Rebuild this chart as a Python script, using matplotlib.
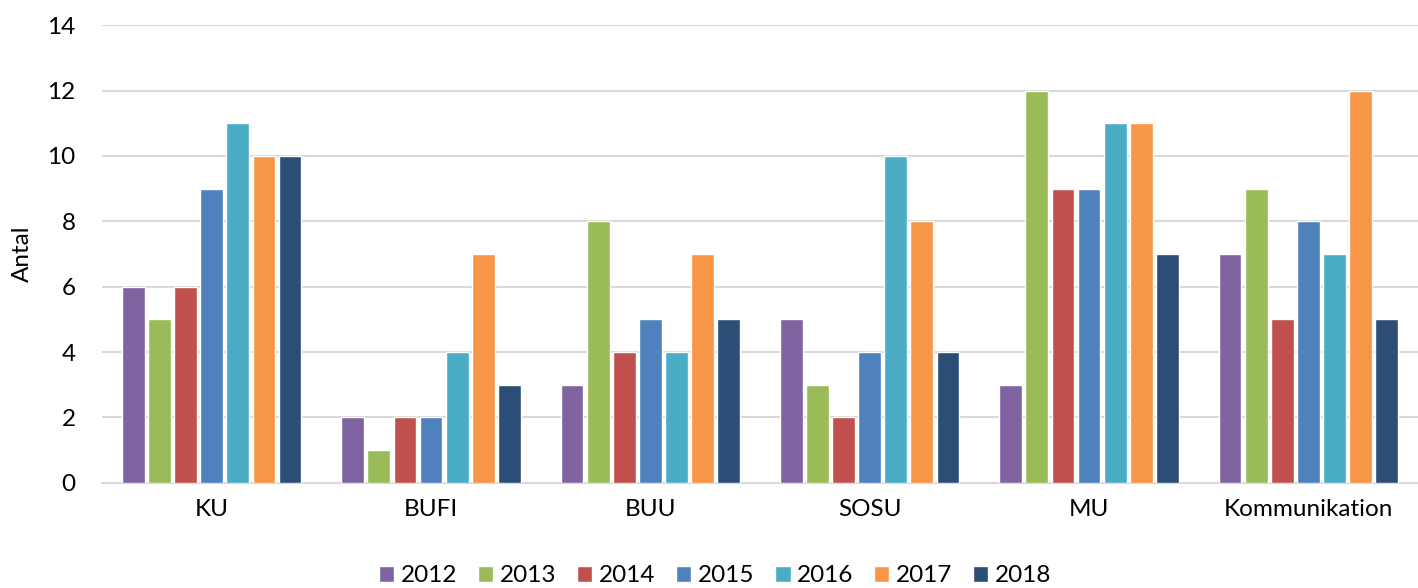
import matplotlib
matplotlib.use("Agg")
import matplotlib.pyplot as plt
import numpy as np

plt.rcParams['font.family'] = ['Lato', 'DejaVu Sans']

categories = ["KU", "BUFI", "BUU", "SOSU", "MU", "Kommunikation"]
years = ["2012", "2013", "2014", "2015", "2016", "2017", "2018"]
values = {
    "2012": [6, 2, 3, 5, 3, 7],
    "2013": [5, 1, 8, 3, 12, 9],
    "2014": [6, 2, 4, 2, 9, 5],
    "2015": [9, 2, 5, 4, 9, 8],
    "2016": [11, 4, 4, 10, 11, 7],
    "2017": [10, 7, 7, 8, 11, 12],
    "2018": [10, 3, 5, 4, 7, 5],
}
colors = ["#8064a2", "#9bbb59", "#c0504d", "#4f81bd", "#4bacc6", "#f79646", "#2c4d75"]

fig = plt.figure(figsize=(14.18, 5.88), dpi=100)
ax = fig.add_axes([0.072, 0.179, 0.928, 0.778])

x = np.arange(len(categories))
step = 0.119
width = 0.104
for i, y in enumerate(years):
    ax.bar(x + (i - 3) * step, values[y], width=width, color=colors[i],
           edgecolor="white", linewidth=1.0, label=y, zorder=3)

ax.set_xlim(-0.5, len(categories) - 0.5)
ax.set_ylim(0, 14)
ax.set_yticks(range(0, 15, 2))
ax.set_xticks(x)
ax.set_xticklabels(categories)
ax.grid(axis="y", color="#d9d9d9", linewidth=1.5, zorder=0)
for s in ["top", "right", "left"]:
    ax.spines[s].set_visible(False)
ax.spines["bottom"].set_color("#d9d9d9")
ax.spines["bottom"].set_linewidth(1.5)
ax.tick_params(axis="both", length=0, labelsize=17.5, colors="black")
ax.tick_params(axis="y", pad=19)
ax.tick_params(axis="x", pad=12)
ax.set_ylabel("Antal", fontsize=17.5)
ax.yaxis.set_label_coords(-0.0524, 0.5)

fig.legend(loc="center", bbox_to_anchor=(0.504, 1 - 576 / 588), ncol=7,
           frameon=False, fontsize=17.5, handlelength=0.65, handleheight=0.65,
           columnspacing=0.85, handletextpad=0.25, borderpad=0.0)

fig.savefig("out.png", dpi=100)
